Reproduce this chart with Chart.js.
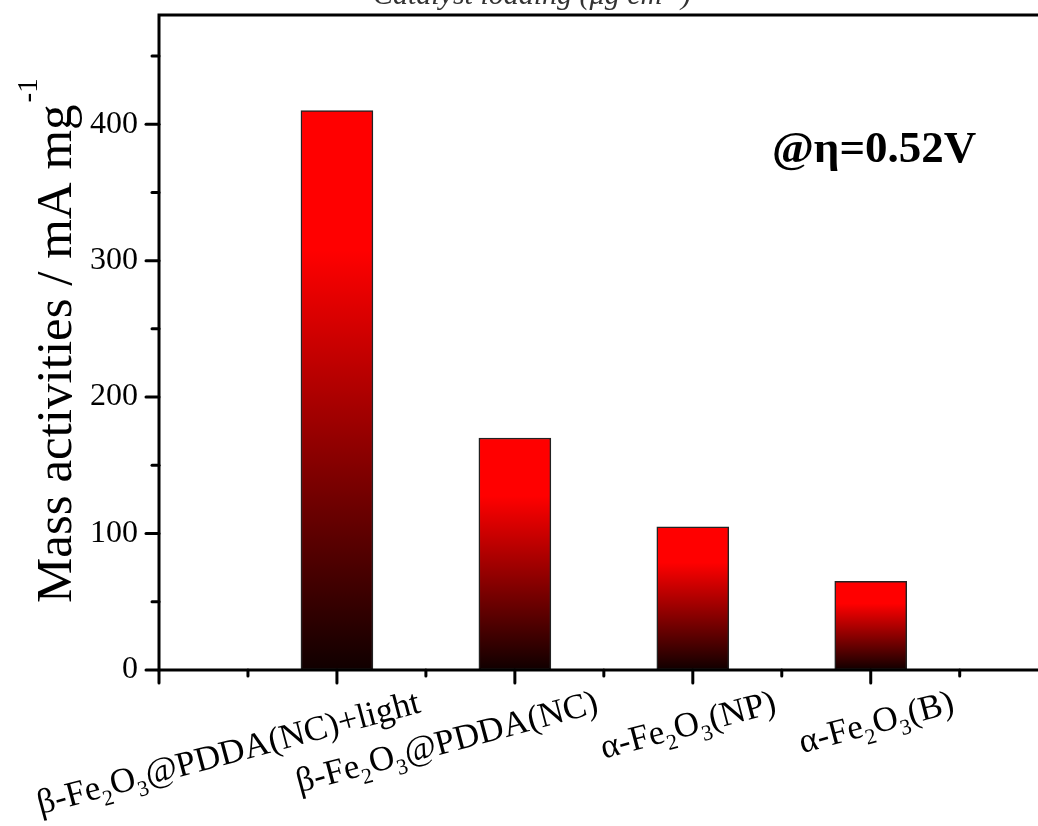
<!DOCTYPE html>
<html>
<head>
<meta charset="utf-8">
<script src="https://cdn.jsdelivr.net/npm/chart.js@4.4.0/dist/chart.umd.min.js"></script>
<style>
  body { margin: 0; background: #fff; }
  canvas { display: block; }
</style>
</head>
<body>
<canvas id="massChart" width="1038" height="826"></canvas>
<script>
// sample names, "_" marks a subscript digit
const categories = ["β-Fe_2O_3@PDDA(NC)+light", "β-Fe_2O_3@PDDA(NC)", "α-Fe_2O_3(NP)", "α-Fe_2O_3(B)"];
const positions = [1, 2, 3, 4];
const massActivities = [410, 170, 105, 65];
const yTicks = [0, 50, 100, 150, 200, 250, 300, 350, 400, 450];
const xTicks = [0, 0.5, 1, 1.5, 2, 2.5, 3, 3.5, 4, 4.5];

const serif = '"Liberation Serif", "Times New Roman", serif';

function barGradient(context) {
  const chart = context.chart;
  if (!chart.chartArea || !context.parsed) return "#ff0000";
  const y = chart.scales.y;
  const top = y.getPixelForValue(context.parsed.y);
  const bottom = y.getPixelForValue(0);
  const g = chart.ctx.createLinearGradient(0, top, 0, bottom);
  g.addColorStop(0, "#ff0000");
  g.addColorStop(0.25, "#ff0000");
  g.addColorStop(1, "#100000");
  return g;
}

// text with subscripts, drawn right-aligned at the origin
function drawRich(ctx, text, size) {
  const parts = text.split(/_(\d)/);
  const big = size + "px " + serif;
  const small = Math.round(size * 0.62) + "px " + serif;
  let w = 0;
  parts.forEach((p, i) => {
    ctx.font = i % 2 ? small : big;
    w += ctx.measureText(p).width;
  });
  let cx = -w;
  parts.forEach((p, i) => {
    ctx.font = i % 2 ? small : big;
    ctx.fillText(p, cx, i % 2 ? size * 0.25 : 0);
    cx += ctx.measureText(p).width;
  });
}

const axesPlugin = {
  id: "axesPlugin",
  afterDatasetsDraw(chart) {
    const { ctx, chartArea: a, scales: { x, y } } = chart;
    ctx.save();
    ctx.strokeStyle = "#000";
    ctx.fillStyle = "#000";
    ctx.lineWidth = 3;

    // frame (right side is cut off in the original)
    ctx.beginPath();
    ctx.moveTo(a.right, a.top);
    ctx.lineTo(a.left, a.top);
    ctx.lineTo(a.left, a.bottom);
    ctx.lineTo(a.right, a.bottom);
    ctx.stroke();

    ctx.lineCap = "round";
    yTicks.forEach(v => {
      const len = v % 100 === 0 ? 13 : 7;
      const py = y.getPixelForValue(v);
      ctx.beginPath();
      ctx.moveTo(a.left, py);
      ctx.lineTo(a.left - len, py);
      ctx.stroke();
    });
    xTicks.forEach(v => {
      const len = v % 1 === 0 ? 13 : 6;
      const px = x.getPixelForValue(v);
      ctx.beginPath();
      ctx.moveTo(px, a.bottom);
      ctx.lineTo(px, a.bottom + len);
      ctx.stroke();
    });

    // rotated category labels
    ctx.textBaseline = "alphabetic";
    ctx.textAlign = "left";
    categories.forEach((c, i) => {
      const px = x.getPixelForValue(positions[i]);
      ctx.save();
      ctx.translate(px + 85, a.bottom + 42);
      ctx.rotate(-15 * Math.PI / 180);
      drawRich(ctx, c, 35);
      ctx.restore();
    });

    // y axis title
    ctx.save();
    ctx.translate(71, 603);
    ctx.rotate(-Math.PI / 2);
    ctx.font = "51px " + serif;
    const main = "Mass activities / mA mg";
    ctx.fillText(main, 0, 0);
    const mw = ctx.measureText(main).width;
    ctx.font = "29px " + serif;
    ctx.fillText("-1", mw + 2, -34);
    ctx.restore();

    // annotation
    ctx.font = "bold 45px " + serif;
    ctx.fillText("@η=0.52V", 772, 162);

    // top axis title, mostly cut off by the page edge
    ctx.fillStyle = "#333";
    ctx.font = "italic 30px " + serif;
    ctx.textAlign = "center";
    ctx.fillText("Catalyst loading (μg cm⁻²)", 532, 4);
    ctx.restore();
  }
};

new Chart(document.getElementById("massChart"), {
  type: "bar",
  data: {
    datasets: [{
      data: positions.map((p, i) => ({ x: p, y: massActivities[i] })),
      backgroundColor: barGradient,
      borderColor: "#222",
      borderWidth: 1.5,
      borderSkipped: false,
      barThickness: 72
    }]
  },
  options: {
    responsive: false,
    animation: false,
    devicePixelRatio: 1,
    layout: { padding: { top: 15, right: 0, bottom: 156, left: 0 } },
    plugins: { legend: { display: false }, tooltip: { enabled: false } },
    scales: {
      x: { type: "linear", min: 0, max: 4.94, offset: false, display: false },
      y: {
        min: 0,
        max: 480,
        afterBuildTicks: s => { s.ticks = yTicks.map(v => ({ value: v })); },
        afterFit: s => {
          s.width = 159;
          s.paddingTop = 0;
          s.paddingBottom = 0;
        },
        grid: { display: false, drawTicks: false },
        border: { display: false },
        ticks: {
          padding: 21,
          color: "#000",
          font: { family: serif, size: 32 },
          callback: v => (v % 100 === 0 ? v : "")
        }
      }
    }
  },
  plugins: [axesPlugin]
});
</script>
</body>
</html>
